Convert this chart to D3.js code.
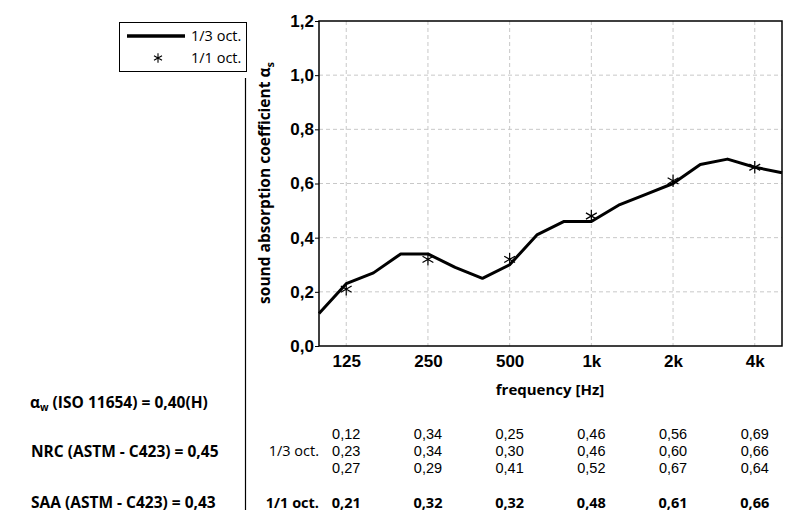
<!DOCTYPE html>
<html><head><meta charset="utf-8">
<script src="https://cdn.jsdelivr.net/npm/d3@7"></script>
<style>body{margin:0;background:#fff}svg{display:block}</style>
</head><body>
<svg id="c" width="795" height="530"></svg>
<script>
const thirdBands = ["100","125","160","200","250","315","400","500","630","800","1k","1.25k","1.6k","2k","2.5k","3.15k","4k","5k"];
const thirdValues = [0.12,0.23,0.27,0.34,0.34,0.29,0.25,0.30,0.41,0.46,0.46,0.52,0.56,0.60,0.67,0.69,0.66,0.64];
const octBands = ["125","250","500","1k","2k","4k"];
const octIndex = [1,4,7,10,13,16];
const octValues = [0.21,0.32,0.32,0.48,0.61,0.66];
const yTicks = [0,0.2,0.4,0.6,0.8,1.0,1.2];
const fmt = v => v.toFixed(2).replace(".", ",");
const fmt1 = v => v.toFixed(1).replace(".", ",");

const svg = d3.select("#c");
const L=319, R=782, T=21, B=346;
const x = d3.scaleLinear().domain([0,17]).range([L,R]);
const y = d3.scaleLinear().domain([0,1.2]).range([B,T]);

// grid
const g = svg.append("g");
g.selectAll(".vg").data(octIndex).join("line")
  .attr("x1",d=>x(d)).attr("x2",d=>x(d)).attr("y1",T).attr("y2",B)
  .attr("stroke","#c8c8c8").attr("stroke-dasharray","4,3");
g.selectAll(".hg").data(yTicks.slice(1,-1)).join("line")
  .attr("x1",L).attr("x2",R).attr("y1",d=>y(d)).attr("y2",d=>y(d))
  .attr("stroke","#c8c8c8").attr("stroke-dasharray","4,3");

// y axis
const ya = svg.append("g").attr("transform",`translate(${L},0)`)
  .call(d3.axisLeft(y).tickValues(yTicks).tickFormat(fmt1).tickSize(4).tickPadding(1));
ya.select(".domain").remove();
ya.selectAll("text").attr("font-family","Liberation Sans, Arial, sans-serif").attr("font-weight","bold").attr("font-size",17).attr("fill","#000");
// x axis
const xa = svg.append("g").attr("transform",`translate(0,${B})`)
  .call(d3.axisBottom(x).tickValues(octIndex).tickFormat((d,i)=>octBands[i]).tickSize(0).tickPadding(9));
xa.select(".domain").remove();
xa.selectAll("text").attr("font-family","Liberation Sans, Arial, sans-serif").attr("font-weight","bold").attr("font-size",17).attr("fill","#000");

// frame
svg.append("rect").attr("x",L).attr("y",T).attr("width",R-L).attr("height",B-T)
  .attr("fill","none").attr("stroke","#000").attr("stroke-width",1.5);

// line
svg.append("path").datum(thirdValues)
  .attr("d", d3.line().x((d,i)=>x(i)).y(d=>y(d)))
  .attr("fill","none").attr("stroke","#000").attr("stroke-width",3).attr("stroke-linejoin","round");

// asterisks
const star = d3.symbol().type(d3.symbolAsterisk).size(110);
svg.selectAll(".st").data(octValues).join("path")
  .attr("transform",(d,i)=>`translate(${x(octIndex[i])},${y(d)})`)
  .attr("d",star).attr("fill","none").attr("stroke","#000").attr("stroke-width",1.2);

// axis titles
const bold = "'Open Sans', sans-serif";
const tab = "'Liberation Sans', Arial, sans-serif";
const yl = svg.append("text").attr("transform","translate(270,183) rotate(-90)")
  .attr("text-anchor","middle").attr("font-family",bold).attr("font-weight","bold").attr("font-size",15.5);
yl.append("tspan").text("sound absorption coefficient α");
yl.append("tspan").attr("font-size",11).attr("dy",4).text("s");
svg.append("text").attr("x",550).attr("y",395).attr("text-anchor","middle")
  .attr("font-family",bold).attr("font-weight","bold").attr("font-size",15).text("frequency [Hz]");

// legend
svg.append("rect").attr("x",119.5).attr("y",22.5).attr("width",127).attr("height",49)
  .attr("fill","#fff").attr("stroke","#000").attr("stroke-width",1);
svg.append("line").attr("x1",127).attr("x2",185).attr("y1",36).attr("y2",36).attr("stroke","#000").attr("stroke-width",3.5);
svg.append("path").attr("transform","translate(158,58)").attr("d",d3.symbol().type(d3.symbolAsterisk).size(60)).attr("fill","none").attr("stroke","#000").attr("stroke-width",1.1);
svg.append("text").attr("x",191).attr("y",41).attr("font-family",bold).attr("font-size",14.5).text("1/3 oct.");
svg.append("text").attr("x",191).attr("y",63).attr("font-family",bold).attr("font-size",14.5).text("1/1 oct.");

// separator
svg.append("line").attr("x1",245.5).attr("x2",245.5).attr("y1",78).attr("y2",510).attr("stroke","#000").attr("stroke-width",1.2);

// left texts
const lt = svg.append("text").attr("x",30).attr("y",408).attr("font-family",bold).attr("font-weight","bold").attr("font-size",15.5);
lt.append("tspan").text("α");
lt.append("tspan").attr("font-size",10).attr("dy",3).text("w");
lt.append("tspan").attr("dy",-3).text(" (ISO 11654) = 0,40(H)");
svg.append("text").attr("x",31).attr("y",457).attr("font-family",bold).attr("font-weight","bold").attr("font-size",15.5).text("NRC (ASTM - C423) = 0,45");
svg.append("text").attr("x",31).attr("y",508).attr("font-family",bold).attr("font-weight","bold").attr("font-size",15.5).text("SAA (ASTM - C423) = 0,43");

// table
svg.append("text").attr("x",319).attr("y",456).attr("text-anchor","end").attr("font-family",bold).attr("font-size",14.5).text("1/3 oct.");
svg.append("text").attr("x",319).attr("y",508).attr("text-anchor","end").attr("font-family",bold).attr("font-weight","bold").attr("font-size",14.5).text("1/1 oct.");
octIndex.forEach((oi,c)=>{
  [0,1,2].forEach(r=>{
    svg.append("text").attr("x",x(oi)).attr("y",439+r*17).attr("text-anchor","middle")
      .attr("font-family",tab).attr("font-size",14.5).text(fmt(thirdValues[oi-1+r]));
  });
  svg.append("text").attr("x",x(oi)).attr("y",508).attr("text-anchor","middle")
    .attr("font-family",bold).attr("font-weight","bold").attr("font-size",14.5).text(fmt(octValues[c]));
});
</script>
</body></html>
